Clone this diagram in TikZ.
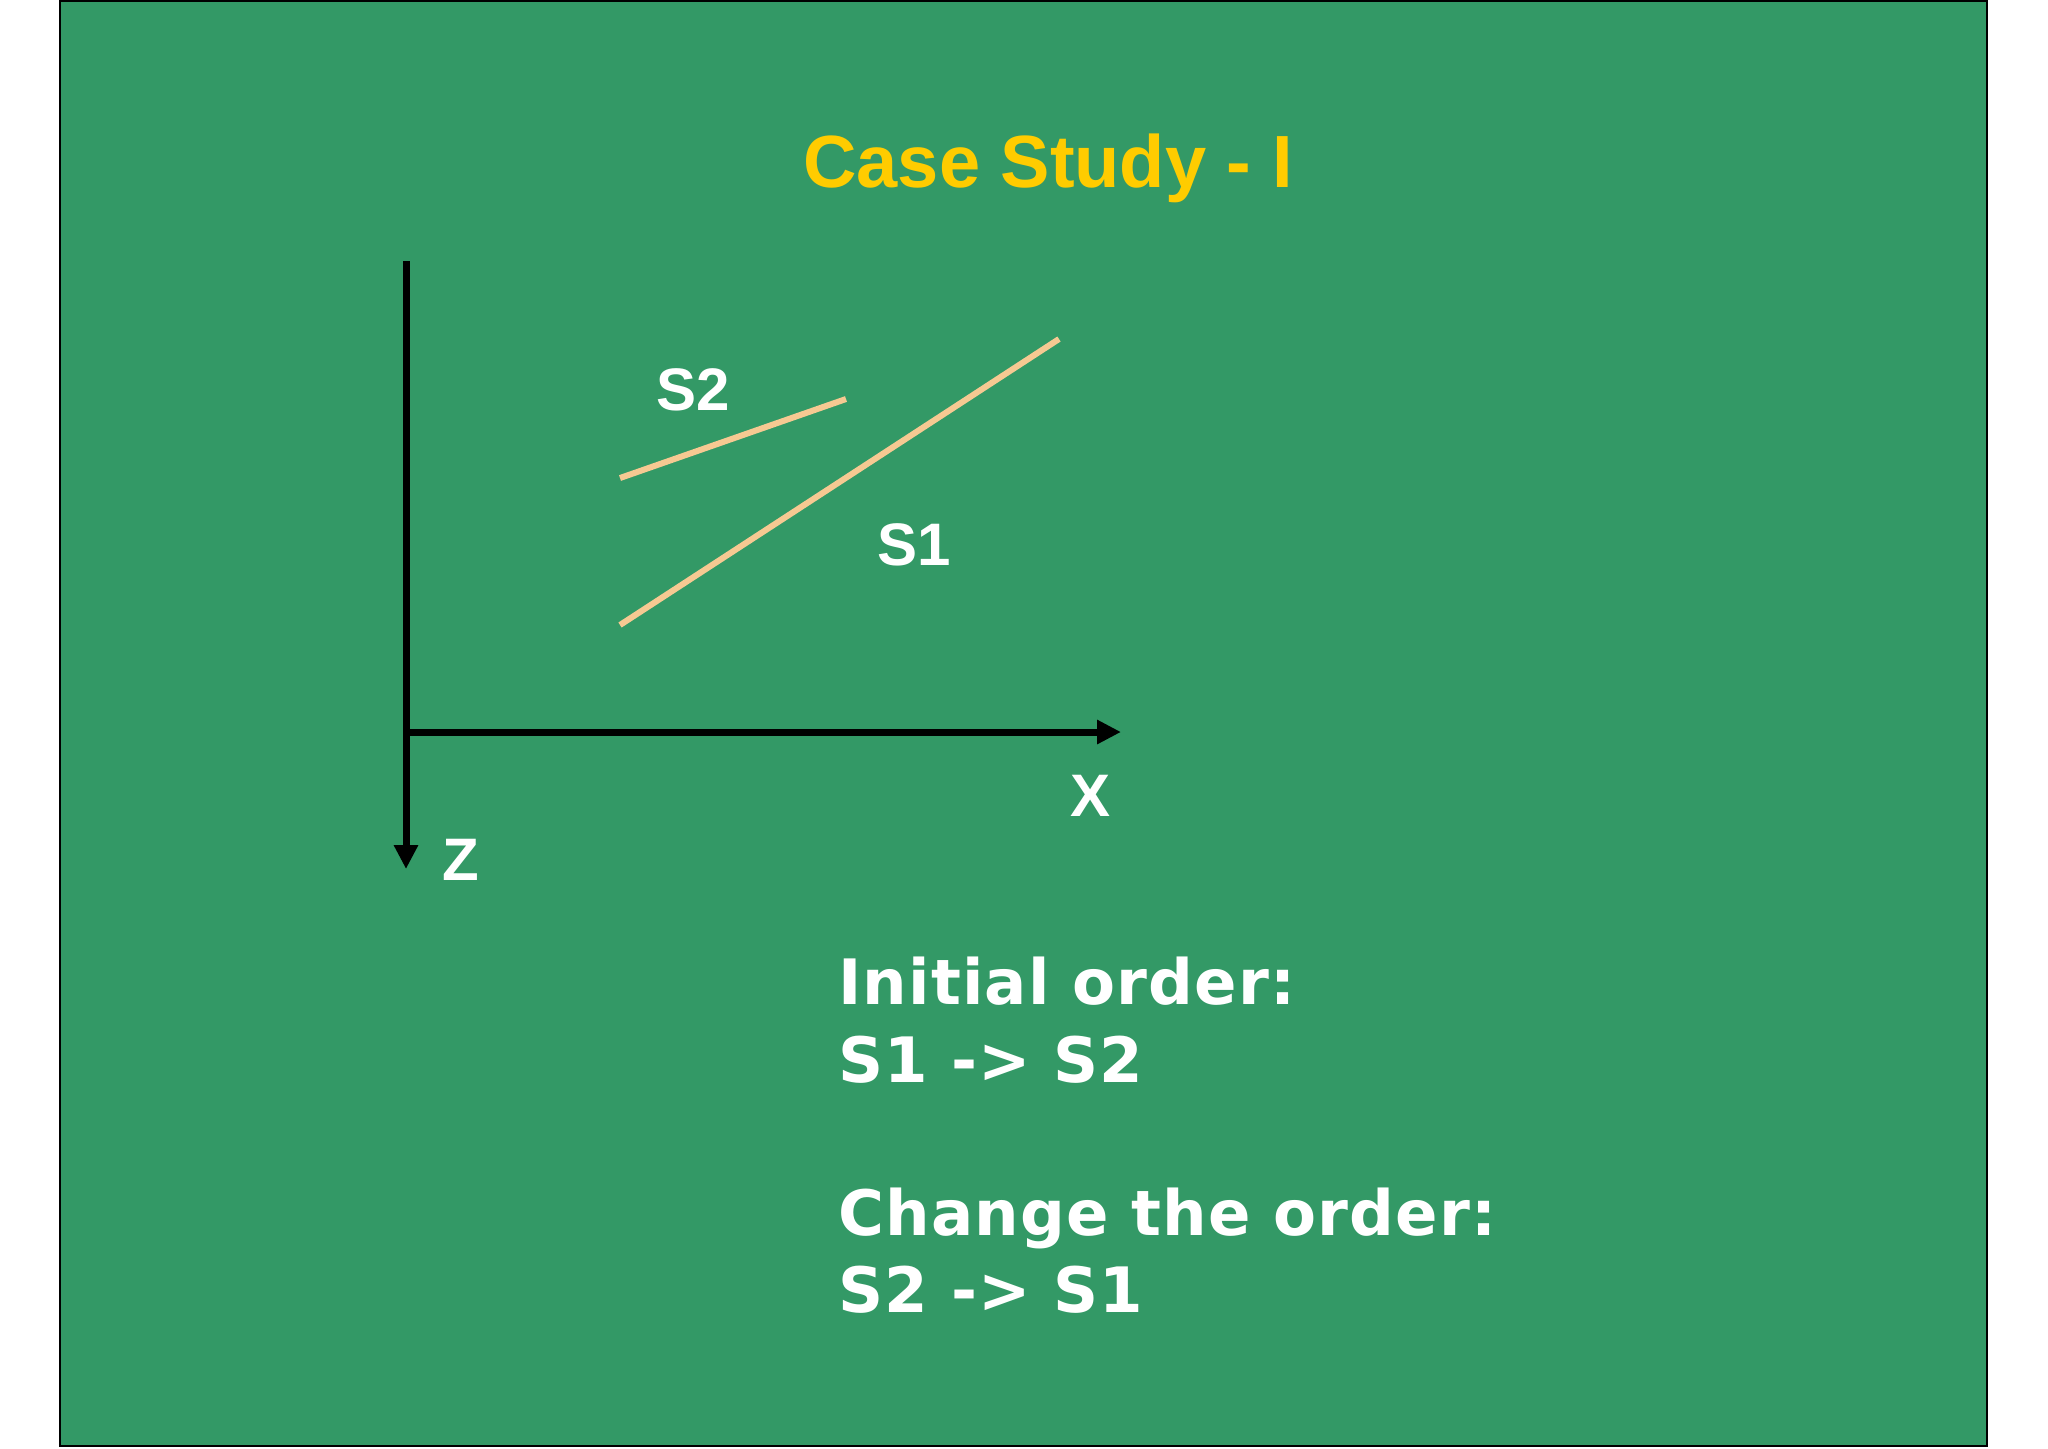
\documentclass[tikz,border=0pt]{standalone}
\usepackage{fontspec}
\usepackage{tikz}
\usetikzlibrary{arrows.meta}
\usetikzlibrary{positioning}

\newfontfamily\arialfont{Liberation Sans}
\newfontfamily\verdanafont{DejaVu Sans}[LetterSpace=1.8]

\definecolor{slidegreen}{RGB}{51,153,102}
\definecolor{titleyellow}{RGB}{255,204,0}
\definecolor{segtan}{RGB}{246,201,146}

\begin{document}
\begin{tikzpicture}[x=0.5pt,y=-0.5pt,
    axis/.style={line width=3.5pt, black, -{Triangle[length=12pt,width=11.5pt]}},
    seg/.style={line width=3pt, segtan},
    axlabel/.style={text=white, inner sep=0pt, anchor=base, font=\arialfont\bfseries\fontsize{30}{36}\selectfont},
    ordertext/.style={text=white, inner sep=0pt, anchor=base west, font=\verdanafont\bfseries\fontsize{31.3}{38.5}\selectfont}]

       % page and slide
       \useasboundingbox[fill=white] (0,0) rectangle (2048,1448);
       \draw[line width=1pt, fill=slidegreen] (60,1) rectangle (1987,1446);

       \node[text=titleyellow, inner sep=0pt, anchor=base, font=\arialfont\bfseries\fontsize{37}{44}\selectfont] (title) at (1048,187) {Case Study - I};

       % axes
       \coordinate (ztop) at (406,261);
       \coordinate (origin) at (406,732);
       \coordinate (zend) at (406,869);
       \coordinate (xend) at (1121,732);
       \draw[axis] (ztop) -- (zend);
       \draw[axis] (origin) -- (xend);

       % segments
       \coordinate (s1a) at (620,625);
       \coordinate (s1b) at (1059,339);
       \coordinate (s2a) at (620,478);
       \coordinate (s2b) at (846,399);
       \draw[seg] (s1a) -- (s1b);
       \draw[seg] (s2a) -- (s2b);

       \node[axlabel] (lblS2) at (693,410) {S2};
       \node[axlabel] (lblS1) at (914,565) {S1};
       \node[axlabel] (lblX) at (1090,816) {X};
       \node[axlabel] (lblZ) at (461,880) {Z};

       % orders
       \node[ordertext] (initial) at (838,1004) {Initial order:};
       \node[ordertext] (ordA) at (838,1082) {S1 -> S2};
       \node[ordertext] (change) at (838,1235) {Change the order:};
       \node[ordertext] (ordB) at (838,1312) {S2 -> S1};

\end{tikzpicture}
\end{document}
